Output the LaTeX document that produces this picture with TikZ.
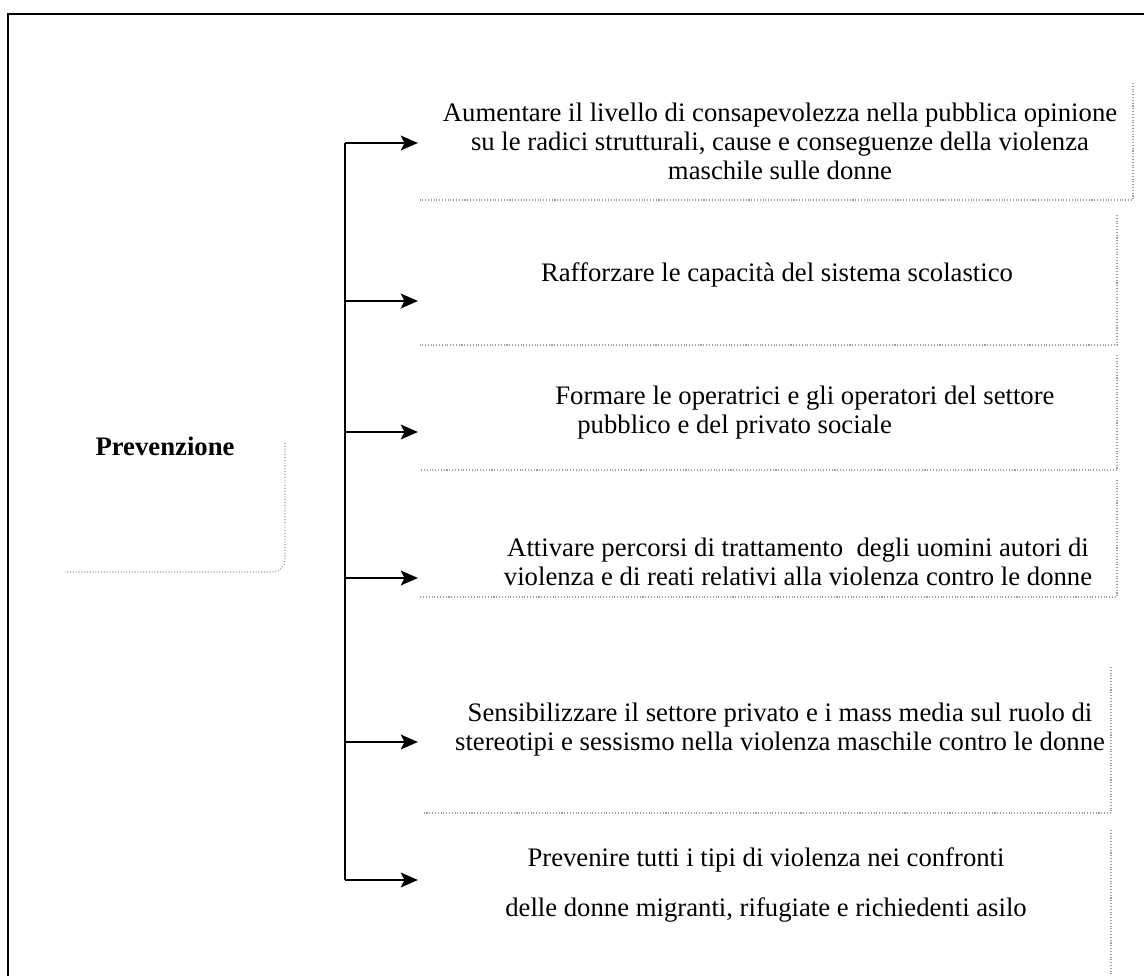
\documentclass[tikz,border=0pt]{standalone}
\usepackage{fontspec}
\setmainfont{Liberation Serif}
\usetikzlibrary{arrows.meta}
\tikzstyle{arrow} = [line width=1.6pt, -{Stealth[length=3.4mm,width=2.9mm,inset=0.7mm]}]
\tikzstyle{frame} = [line width=1.4pt, black]
\tikzstyle{boxline} = [gray!75, densely dotted, line width=0.6pt]
\tikzstyle{goal} = [align=center, inner sep=0pt, font=\fontsize{15.2}{16.5}\selectfont]

\begin{document}
\begin{tikzpicture}[x=0.2mm, y=-0.2mm]
    \useasboundingbox (0,0) rectangle (1144,976);

    % Outer frame
    \draw[frame] (8,976) -- (8,14) -- (1144,14);

    % Left box
    \node[goal, font=\fontsize{15.2}{16.5}\selectfont\bfseries] (prev) at (165,446) {Prevenzione};
    \draw[boxline, rounded corners=2.5mm] (285,443) -- (285,572) -- (65,572);

    % Points on the trunk
    \coordinate (T1) at (345,143);
    \coordinate (T2) at (345,301);
    \coordinate (T3) at (345,432);
    \coordinate (T4) at (345,578);
    \coordinate (T5) at (345,742);
    \coordinate (T6) at (345,880);

    % Arrow heads
    \coordinate (H1) at (418,143);
    \coordinate (H2) at (418,301);
    \coordinate (H3) at (418,432);
    \coordinate (H4) at (418,578);
    \coordinate (H5) at (418,742);
    \coordinate (H6) at (418,880);

    % Lines
    \draw[line width=1.6pt] (T1) -- (T6);
    \foreach \i in {1,...,6}
        \draw[arrow] (T\i) -- (H\i);

    % Box edges
    \draw[boxline] (1133,83) -- (1133,200) -- (420,200);
    \draw[boxline] (1117,215) -- (1117,345) -- (420,345);
    \draw[boxline] (1117,355) -- (1117,470) -- (420,470);
    \draw[boxline] (1117,480) -- (1117,597) -- (420,597);
    \draw[boxline] (1111,667) -- (1111,813) -- (422,813);
    \draw[boxline] (1111,830) -- (1111,976);

    % Goals
    \node[goal] (aumentare) at (780,141) {Aumentare il livello di consapevolezza nella pubblica opinione\\su le radici strutturali, cause e conseguenze della violenza\\maschile sulle donne};
    \node[goal] (rafforzare) at (777,275) {Rafforzare le capacità del sistema scolastico};
    \node[goal, align=left, anchor=west] (formare) at (555,413) {Formare le operatrici e gli operatori del settore\\\hspace*{4.4mm}pubblico e del privato sociale};
    \node[goal] (attivare) at (798,562) {Attivare percorsi di trattamento\ \ degli uomini autori di\\violenza e di reati relativi alla violenza contro le donne};
    \node[goal] (sensibilizzare) at (780,730) {Sensibilizzare il settore privato e i mass media sul ruolo di\\stereotipi e sessismo nella violenza maschile contro le donne};
    \node[goal] (prevenire) at (766,885) {Prevenire tutti i tipi di violenza nei confronti\\[12pt]delle donne migranti, rifugiate e richiedenti asilo};

\end{tikzpicture}
\end{document}
